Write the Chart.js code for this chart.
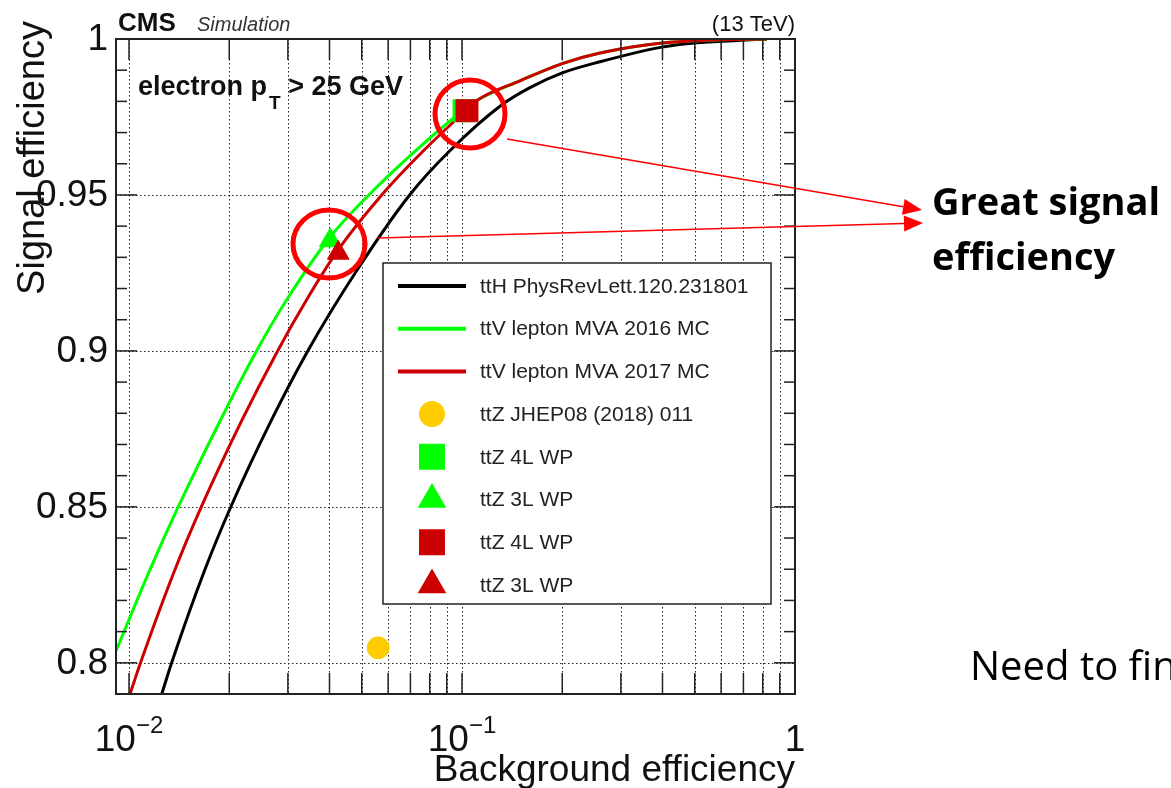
<!DOCTYPE html>
<html>
<head>
<meta charset="utf-8">
<script src="https://cdn.jsdelivr.net/npm/chart.js@4.4.1/dist/chart.umd.min.js"></script>
<style>
  html, body { margin: 0; padding: 0; background: #fff; overflow: hidden; }
  canvas { display: block; }
</style>
</head>
<body>
<canvas id="roc" width="1171" height="788"></canvas>
<script>
// ROC curves: background efficiency (x, log) vs signal efficiency (y)
const ttHBkg = [0.01254, 0.01343, 0.01685, 0.02018, 0.02675, 0.03439, 0.04772, 0.06963, 0.09243, 0.1318, 0.1600, 0.2010, 0.2597, 0.3987, 0.5077, 0.6514, 0.824];
const ttHSig = [0.79, 0.80, 0.8295, 0.8498, 0.8777, 0.8999, 0.9249, 0.95, 0.9644, 0.9789, 0.9844, 0.9892, 0.9927, 0.9974, 0.9988, 0.99945, 1.0];

const mva16Bkg = [0.00914, 0.01152, 0.01403, 0.01880, 0.02413, 0.02972, 0.03995, 0.05250, 0.07291, 0.1005, 0.1117, 0.1493, 0.2010, 0.2597, 0.3987, 0.5953, 0.824];
const mva16Sig = [0.8038, 0.8295, 0.8498, 0.8777, 0.8999, 0.9163, 0.9362, 0.95, 0.9644, 0.9770, 0.9805, 0.9866, 0.9922, 0.9955, 0.9987, 0.99977, 1.0];

const mva17Bkg = [0.01007, 0.01083, 0.01370, 0.01646, 0.02182, 0.02792, 0.03412, 0.04261, 0.05742, 0.07699, 0.1026, 0.1117, 0.1493, 0.2010, 0.2597, 0.3987, 0.5953, 0.824];
const mva17Sig = [0.79, 0.80, 0.8295, 0.8498, 0.8777, 0.8999, 0.9163, 0.9326, 0.95, 0.9644, 0.9770, 0.9805, 0.9866, 0.9922, 0.9955, 0.9987, 0.99977, 1.0];

// working points [bkg, sig]
const ttZJhep = [0.0560, 0.8048];
const wp4L16 = [0.1014, 0.9770];
const wp3L16 = [0.0402, 0.9354];
const wp4L17 = [0.1035, 0.9770];
const wp3L17 = [0.04249, 0.9314];

const xGridValues = [0.01, 0.02, 0.03, 0.04, 0.05, 0.06, 0.07, 0.08, 0.09, 0.1, 0.2, 0.3, 0.4, 0.5, 0.6, 0.7, 0.8, 0.9];
const xLabelValues = [0.01, 0.1, 1];
const xLabelExp = ["\u22122", "\u22121", ""];
const yMajorValues = [0.8, 0.85, 0.9, 0.95, 1.0];
const yLabels = ["0.8", "0.85", "0.9", "0.95", "1"];
const yMinorValues = [0.79, 0.81, 0.82, 0.83, 0.84, 0.86, 0.87, 0.88, 0.89, 0.91, 0.92, 0.93, 0.94, 0.96, 0.97, 0.98, 0.99];

const SANS = "'Liberation Sans', Arial, Helvetica, sans-serif";
const SLIDE = "'Open Sans', Lato, sans-serif";

const pts = (xs, ys) => xs.map((v, i) => ({ x: v, y: ys[i] }));

function line(ctx, x1, y1, x2, y2) {
  ctx.beginPath(); ctx.moveTo(x1, y1); ctx.lineTo(x2, y2); ctx.stroke();
}

const rocDecor = {
  id: "rocDecor",
  beforeDatasetsDraw(chart) {
    const { ctx, chartArea: a, scales: { x, y } } = chart;
    ctx.save();
    ctx.strokeStyle = "#222";
    ctx.lineWidth = 1;
    ctx.setLineDash([1.5, 2.5]);
    xGridValues.forEach(v => {
      const px = Math.round(x.getPixelForValue(v)) + 0.5;
      line(ctx, px, a.top, px, a.bottom);
    });
    yMajorValues.forEach(v => {
      const py = Math.round(y.getPixelForValue(v)) + 0.5;
      line(ctx, a.left, py, a.right, py);
    });
    ctx.restore();
  },
  afterDatasetsDraw(chart) {
    const { ctx, chartArea: a, scales: { x, y } } = chart;
    ctx.save();
    // ticks, inward on all four sides
    ctx.strokeStyle = "#222";
    ctx.lineWidth = 1.5;
    xGridValues.forEach(v => {
      const px = x.getPixelForValue(v);
      line(ctx, px, a.bottom, px, a.bottom - 21);
      line(ctx, px, a.top, px, a.top + 21);
    });
    yMajorValues.forEach(v => {
      const py = y.getPixelForValue(v);
      line(ctx, a.left, py, a.left + 21, py);
      line(ctx, a.right, py, a.right - 21, py);
    });
    yMinorValues.forEach(v => {
      const py = y.getPixelForValue(v);
      line(ctx, a.left, py, a.left + 11, py);
      line(ctx, a.right, py, a.right - 11, py);
    });
    // frame
    ctx.lineWidth = 2;
    ctx.strokeRect(a.left, a.top, a.right - a.left, a.bottom - a.top);

    // tick labels
    ctx.fillStyle = "#111";
    ctx.font = "37px " + SANS;
    ctx.textAlign = "right";
    ctx.textBaseline = "middle";
    yMajorValues.forEach((v, i) => ctx.fillText(yLabels[i], a.left - 8, y.getPixelForValue(v) + 1));

    ctx.textBaseline = "alphabetic";
    ctx.textAlign = "left";
    xLabelValues.forEach((v, i) => {
      const px = x.getPixelForValue(v);
      const base = xLabelExp[i] ? "10" : "1";
      ctx.font = "37px " + SANS;
      const w1 = ctx.measureText(base).width;
      ctx.font = "24px " + SANS;
      const w2 = xLabelExp[i] ? ctx.measureText(xLabelExp[i]).width : 0;
      const x0 = px - (w1 + w2) / 2;
      ctx.font = "37px " + SANS;
      ctx.fillText(base, x0, 751);
      if (w2) { ctx.font = "24px " + SANS; ctx.fillText(xLabelExp[i], x0 + w1, 733); }
    });

    // axis titles
    ctx.font = "37px " + SANS;
    ctx.textAlign = "right";
    ctx.fillText("Background efficiency", a.right, 781);
    ctx.save();
    ctx.translate(44, 21);
    ctx.rotate(-Math.PI / 2);
    ctx.font = "38px " + SANS;
    ctx.fillText("Signal efficiency", 0, 0);
    ctx.restore();

    // header
    ctx.textAlign = "left";
    ctx.font = "bold 26px " + SANS;
    ctx.fillText("CMS", 118, 31);
    ctx.font = "italic 20px " + SANS;
    ctx.fillStyle = "#333";
    ctx.fillText("Simulation", 197, 31);
    ctx.fillStyle = "#111";
    ctx.font = "22px " + SANS;
    ctx.textAlign = "right";
    ctx.fillText("(13 TeV)", a.right, 31);

    // electron pT label
    ctx.textAlign = "left";
    ctx.font = "bold 27px " + SANS;
    let tx = 138;
    ctx.fillText("electron p", tx, 95);
    tx += ctx.measureText("electron p").width + 2;
    ctx.font = "bold 19px " + SANS;
    ctx.fillText("T", tx, 109);
    tx += ctx.measureText("T").width;
    ctx.font = "bold 27px " + SANS;
    ctx.fillText(" > 25 GeV", tx, 95);

    // legend box
    const lg = { l: 383, t: 263, r: 771, b: 604 };
    ctx.fillStyle = "#fff";
    ctx.fillRect(lg.l, lg.t, lg.r - lg.l, lg.b - lg.t);
    ctx.strokeStyle = "#222";
    ctx.lineWidth = 1.5;
    ctx.strokeRect(lg.l, lg.t, lg.r - lg.l, lg.b - lg.t);
    chart.data.datasets.forEach((ds, row) => {
      const ry = 286 + row * 42.7;
      if (ds.showLine) {
        ctx.strokeStyle = ds.borderColor;
        ctx.lineWidth = 4;
        line(ctx, 398, ry, 466, ry);
      } else {
        ctx.fillStyle = ds.pointBackgroundColor;
        ctx.strokeStyle = ds.pointBorderColor;
        Chart.helpers.drawPoint(ctx, { pointStyle: ds.pointStyle, radius: ds.pointRadius, rotation: 0, borderWidth: 1 }, 432, ry);
      }
      ctx.fillStyle = "#222";
      ctx.font = "21px " + SANS;
      ctx.textAlign = "left";
      ctx.textBaseline = "middle";
      ctx.fillText(ds.label, 480, ry + 1);
    });
    ctx.restore();
  },
  afterDraw(chart) {
    const { ctx } = chart;
    ctx.save();
    // highlight ellipses
    ctx.strokeStyle = "#ff0000";
    ctx.lineWidth = 5;
    ctx.beginPath(); ctx.ellipse(470, 114, 35, 34, 0, 0, Math.PI * 2); ctx.stroke();
    ctx.beginPath(); ctx.ellipse(329, 244, 36, 34, 0, 0, Math.PI * 2); ctx.stroke();
    // arrows
    const arrow = (x1, y1, x2, y2) => {
      ctx.lineWidth = 1.5;
      const ang = Math.atan2(y2 - y1, x2 - x1);
      const hl = 19, hw = 8;
      const bx = x2 - hl * Math.cos(ang), by = y2 - hl * Math.sin(ang);
      line(ctx, x1, y1, bx, by);
      ctx.beginPath();
      ctx.moveTo(x2, y2);
      ctx.lineTo(bx + hw * Math.sin(ang), by - hw * Math.cos(ang));
      ctx.lineTo(bx - hw * Math.sin(ang), by + hw * Math.cos(ang));
      ctx.closePath();
      ctx.fillStyle = "#ff0000";
      ctx.fill();
    };
    arrow(507, 139, 922, 210);
    arrow(378, 238, 923, 223);
    // side text
    ctx.fillStyle = "#000";
    ctx.textAlign = "left";
    ctx.textBaseline = "alphabetic";
    ctx.font = "bold 38px " + SLIDE;
    ctx.fillText("Great signal", 932, 215);
    ctx.fillText("efficiency", 932, 270);
    ctx.font = "40px " + SLIDE;
    ctx.fillText("Need to find", 970, 680);
    ctx.restore();
  }
};

const GREEN = "#00ff00";
const RED = "#cc0000";
const curve = (label, data, color, order) => ({
  label, data, showLine: true, borderColor: color, backgroundColor: color,
  borderWidth: 3, pointRadius: 0, pointHoverRadius: 0, cubicInterpolationMode: "monotone", order
});
const marker = (label, p, color, style, radius, order) => ({
  label, data: [{ x: p[0], y: p[1] }], showLine: false, pointStyle: style, pointRadius: radius,
  pointBackgroundColor: color, pointBorderColor: color, pointBorderWidth: 1, order
});

new Chart(document.getElementById("roc").getContext("2d"), {
  type: "scatter",
  data: {
    datasets: [
      curve("ttH PhysRevLett.120.231801", pts(ttHBkg, ttHSig), "#000000", 8),
      curve("ttV lepton MVA 2016 MC", pts(mva16Bkg, mva16Sig), GREEN, 7),
      curve("ttV lepton MVA 2017 MC", pts(mva17Bkg, mva17Sig), RED, 6),
      marker("ttZ JHEP08 (2018) 011", ttZJhep, "#ffcc00", "circle", 11, 5),
      marker("ttZ 4L WP", wp4L16, GREEN, "rect", 15.5, 4),
      marker("ttZ 3L WP", wp3L16, GREEN, "triangle", 12.5, 3),
      marker("ttZ 4L WP", wp4L17, RED, "rect", 15.5, 2),
      marker("ttZ 3L WP", wp3L17, RED, "triangle", 12.5, 1)
    ]
  },
  options: {
    responsive: false,
    animation: false,
    devicePixelRatio: 1,
    layout: { padding: { left: 116, top: 39, right: 376, bottom: 94 } },
    plugins: { legend: { display: false }, tooltip: { enabled: false } },
    events: [],
    scales: {
      x: { type: "logarithmic", min: 0.00914, max: 1, display: false },
      y: { type: "linear", min: 0.79, max: 1.0, display: false }
    }
  },
  plugins: [rocDecor]
});
</script>
</body>
</html>
